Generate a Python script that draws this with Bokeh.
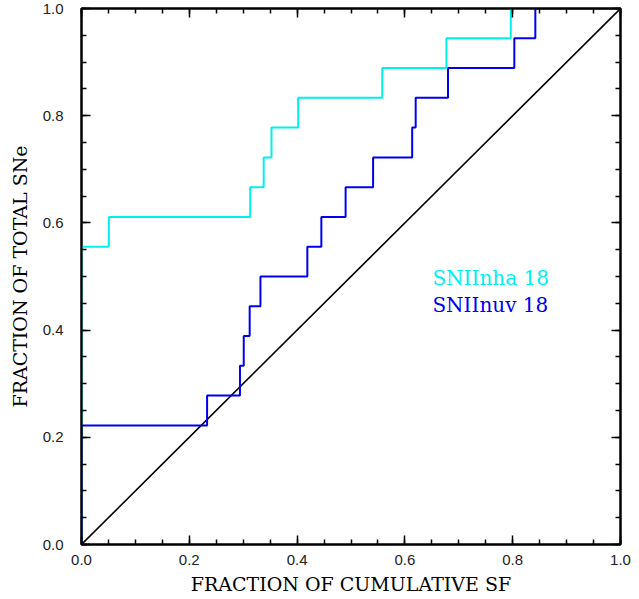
from bokeh.plotting import figure
from bokeh.models import LinearAxis, SingleIntervalTicker, Label, Range1d, CustomJSTickFormatter
from bokeh.embed import file_html
from bokeh.resources import INLINE

# Sorted step positions (fraction of cumulative SF) and the cumulative fraction reached there
nha_x = [0.0, 0.0507, 0.313, 0.338, 0.3525, 0.402, 0.558, 0.677, 0.7965]
nha_y = [10/18, 11/18, 12/18, 13/18, 14/18, 15/18, 16/18, 17/18, 18/18]
nuv_x = [0.0, 0.233, 0.294, 0.301, 0.312, 0.332, 0.419, 0.445, 0.490, 0.541,
         0.6135, 0.620, 0.680, 0.803, 0.842]
nuv_y = [4/18, 5/18, 6/18, 7/18, 8/18, 9/18, 10/18, 11/18, 12/18, 13/18,
         14/18, 15/18, 16/18, 17/18, 18/18]
diag_x = [0.0, 1.0]
diag_y = [0.0, 1.0]
labels = ["SNIInha 18", "SNIInuv 18"]

CYAN = "#00f0f0"
BLUE = "#0000f0"


def step_path(xs, ys):
    px, py = [0.0], [0.0]
    prev = 0.0
    for x, y in zip(xs, ys):
        px += [x, x]
        py += [prev, y]
        prev = y
    px.append(1.0)
    py.append(prev)
    return px, py


p = figure(width=633, height=599, output_backend="svg", toolbar_location=None,
           x_range=Range1d(0, 1), y_range=Range1d(0, 1),
           min_border_left=81, min_border_right=13, min_border_top=8,
           min_border_bottom=55)
p.grid.visible = False
p.outline_line_color = "black"
p.outline_line_width = 2
p.background_fill_color = "white"
p.border_fill_color = "white"

fmt = CustomJSTickFormatter(code="return tick.toFixed(1);")
for ax in [p.xaxis[0], p.yaxis[0]]:
    ax.ticker = SingleIntervalTicker(interval=0.2, num_minor_ticks=4)
    ax.formatter = fmt
    ax.major_tick_in = 9
    ax.major_tick_out = 0
    ax.minor_tick_in = 5
    ax.minor_tick_out = 0
    ax.axis_line_width = 2
    ax.major_tick_line_width = 1.5
    ax.minor_tick_line_width = 1.5
    ax.major_label_text_font = "Liberation Sans"
    ax.major_label_text_font_size = "15px"
    ax.major_label_text_color = "#222222"
    ax.axis_label_text_font = "DejaVu Serif"
    ax.axis_label_text_font_size = "19px"
    ax.axis_label_text_font_style = "normal"
    ax.axis_label_text_color = "black"

p.xaxis[0].major_label_standoff = 10
p.yaxis[0].major_label_standoff = 18
p.xaxis[0].axis_label = "FRACTION OF CUMULATIVE SF"
p.yaxis[0].axis_label = "FRACTION OF TOTAL SNe"
p.xaxis[0].axis_label_standoff = 5
p.yaxis[0].axis_label_standoff = 9

blank = CustomJSTickFormatter(code="return '';")
for loc in ["above", "right"]:
    ax = LinearAxis(ticker=SingleIntervalTicker(interval=0.2, num_minor_ticks=4),
                    formatter=blank)
    ax.major_tick_in = 9
    ax.major_tick_out = 0
    ax.minor_tick_in = 5
    ax.minor_tick_out = 0
    ax.axis_line_width = 2
    ax.major_tick_line_width = 1.5
    ax.minor_tick_line_width = 1.5
    ax.major_label_standoff = 0
    p.add_layout(ax, loc)

p.line(diag_x, diag_y, line_color="black", line_width=1.6)
cx, cy = step_path(nha_x, nha_y)
p.line(cx, cy, line_color=CYAN, line_width=2)
bx, by = step_path(nuv_x, nuv_y)
p.line(bx, by, line_color=BLUE, line_width=2)

p.add_layout(Label(x=0.651, y=0.497, text=labels[0], text_color=CYAN,
                   text_font="DejaVu Serif", text_font_size="20px",
                   text_baseline="alphabetic"))
p.add_layout(Label(x=0.651, y=0.447, text=labels[1], text_color=BLUE,
                   text_font="DejaVu Serif", text_font_size="20px",
                   text_baseline="alphabetic"))

open("out.html", "w").write(file_html(p, INLINE))
